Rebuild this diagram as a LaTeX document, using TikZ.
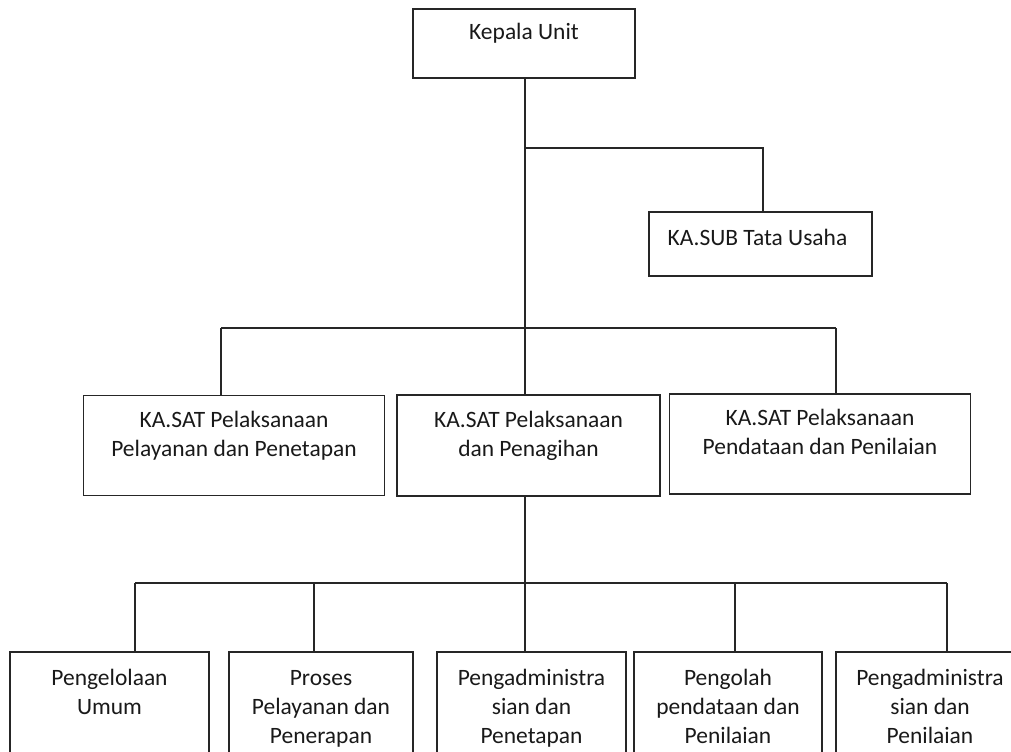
\documentclass[tikz,border=0pt]{standalone}
\usepackage{fontspec}
\setmainfont{Carlito}
\usetikzlibrary{calc}
\newcommand{\myst}{\rule{0pt}{16pt}}
\begin{document}
\begin{tikzpicture}[x=0.75pt,y=-0.75pt,
  bx/.style 2 args={draw=black!85, line width=1.1pt, rectangle, inner sep=0pt, outer sep=0pt,
     minimum width=#1*0.75pt, minimum height=#2*0.75pt},
  txt/.style={font=\fontsize{17.6}{21.75}\selectfont, align=center, inner sep=0pt, anchor=north, text=black!90},
  ln/.style={draw=black!85, line width=0.9pt}]
\useasboundingbox (0,0) rectangle (1011,751);
\clip (0,0) rectangle (1011,751);

% boxes
\node[bx={222}{69}]  (ku)  at (524,43.5) {};
\node[bx={223}{64}]  (sub) at (760.5,244) {};
\node[bx={301}{100}] (s1)  at (234,445.5) {};
\node[bx={263}{101}] (s2)  at (528.5,445.5) {};
\node[bx={301}{100}] (s3)  at (820,444) {};
\node[bx={199}{120}] (b1)  at (109.5,712) {};
\node[bx={184}{120}] (b2)  at (321,712) {};
\node[bx={189}{120}] (b3)  at (531.5,712) {};
\node[bx={188}{120}] (b4)  at (728,712) {};
\node[bx={188}{120}] (b5)  at (930,712) {};

% texts
\node[txt] (tku)  at ($(ku.north)+(0,8.7)$)  {\myst Kepala Unit};
\node[txt] (tsub) at ($(sub.north)+(-3,11.7)$) {\myst KA.SUB Tata Usaha};
\node[txt] (ts1)  at ($(s1.north)+(0,10.2)$) {\myst KA.SAT Pelaksanaan\\Pelayanan dan Penetapan};
\node[txt] (ts2)  at ($(s2.north)+(0,10.7)$) {\myst KA.SAT Pelaksanaan\\dan Penagihan};
\node[txt] (ts3)  at ($(s3.north)+(0,9.7)$)  {\myst KA.SAT Pelaksanaan\\Pendataan dan Penilaian};
\node[txt] (tb1)  at ($(b1.north)+(0,11.7)$)  {\myst Pengelolaan\\Umum};
\node[txt] (tb2)  at ($(b2.north)+(0,11.7)$)  {\myst Proses\\Pelayanan dan\\Penerapan};
\node[txt] (tb3)  at ($(b3.north)+(0,11.7)$)  {\myst Pengadministra\\sian dan\\Penetapan};
\node[txt] (tb4)  at ($(b4.north)+(0,11.7)$)  {\myst Pengolah\\pendataan dan\\Penilaian};
\node[txt] (tb5)  at ($(b5.north)+(0,11.7)$)  {\myst Pengadministra\\sian dan\\Penilaian};

% junction coordinates
\coordinate (j1) at (525,148);
\coordinate (c1) at (221,328);
\coordinate (c3) at (836,328);
\coordinate (d0) at (525,583);
\coordinate (d1) at (135,583);
\coordinate (d2) at (314,583);
\coordinate (d4) at (735,583);
\coordinate (d5) at (947,583);

% connectors
\draw[ln] (ku.south -| j1) -- (j1 |- s2.north);
\draw[ln] (j1) -| (sub.north -| 763,0);
\draw[ln] (c1) -- (c3);
\draw[ln] (c1) -- (c1 |- s1.north);
\draw[ln] (c3) -- (c3 |- s3.north);
\draw[ln] (d0 |- s2.south) -- (d0);
\draw[ln] (d1) -- (d5);
\draw[ln] (d1) -- (d1 |- b1.north);
\draw[ln] (d2) -- (d2 |- b2.north);
\draw[ln] (d0) -- (d0 |- b3.north);
\draw[ln] (d4) -- (d4 |- b4.north);
\draw[ln] (d5) -- (d5 |- b5.north);
\end{tikzpicture}
\end{document}
